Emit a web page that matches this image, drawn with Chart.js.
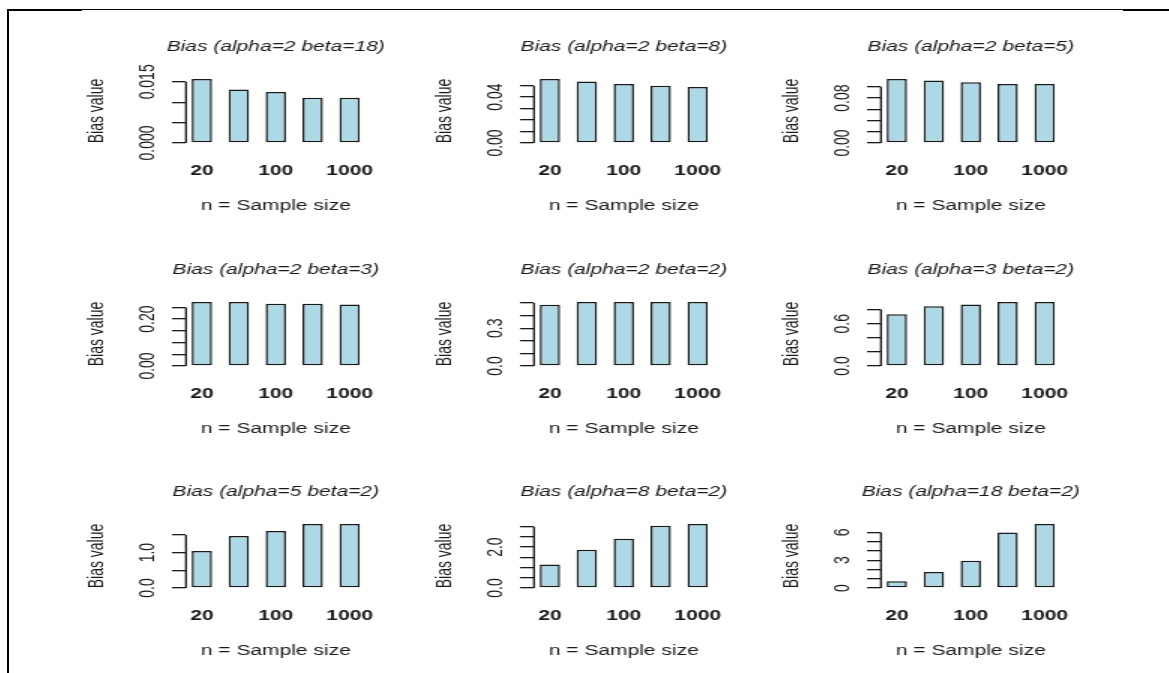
<!DOCTYPE html>
<html>
<head>
<meta charset="utf-8">
<script src="https://cdn.jsdelivr.net/npm/chart.js@4/dist/chart.umd.min.js"></script>
<style>
  html, body { margin: 0; padding: 0; background: #fff; }
  body { position: relative; width: 1169px; height: 673px; overflow: hidden; }
  .rule { position: absolute; background: #000; }
</style>
</head>
<body>
<!-- table frame around the figure -->
<div class="rule" style="left:7px;top:9px;width:1162px;height:1px"></div>
<div class="rule" style="left:7px;top:9px;width:75px;height:2px"></div>
<div class="rule" style="left:1123px;top:9px;width:46px;height:2px"></div>
<div class="rule" style="left:7px;top:9px;width:2px;height:664px"></div>

<script>
// ---- data ----------------------------------------------------------------
const sampleSizes = ['20', '50', '100', '500', '1000'];
const labelledSizes = ['20', '100', '1000'];

const panelTitles = [
  'Bias (alpha=2 beta=18)', 'Bias (alpha=2 beta=8)', 'Bias (alpha=2 beta=5)',
  'Bias (alpha=2 beta=3)',  'Bias (alpha=2 beta=2)', 'Bias (alpha=3 beta=2)',
  'Bias (alpha=5 beta=2)',  'Bias (alpha=8 beta=2)', 'Bias (alpha=18 beta=2)'
];

const biasA2B18 = [0.0157, 0.0131, 0.0125, 0.0111, 0.0111];
const biasA2B8  = [0.0558, 0.0537, 0.0514, 0.0500, 0.0488];
const biasA2B5  = [0.114, 0.1115, 0.108, 0.105, 0.105];
const biasA2B3  = [0.273, 0.273, 0.266, 0.266, 0.262];
const biasA2B2  = [0.487, 0.508, 0.508, 0.508, 0.508];
const biasA3B2  = [0.734, 0.847, 0.871, 0.908, 0.908];
const biasA5B2  = [1.045, 1.47, 1.61, 1.81, 1.81];
const biasA8B2  = [1.15, 1.87, 2.41, 3.05, 3.13];
const biasA18B2 = [0.72, 1.74, 2.93, 6.0, 6.91];

const ticksA2B18 = [0, 0.005, 0.010, 0.015];
const ticksA2B8  = [0, 0.01, 0.02, 0.03, 0.04, 0.05];
const ticksA2B5  = [0, 0.02, 0.04, 0.06, 0.08, 0.10];
const ticksA2B3  = [0, 0.05, 0.10, 0.15, 0.20, 0.25];
const ticksA2B2  = [0, 0.1, 0.2, 0.3, 0.4, 0.5];
const ticksA3B2  = [0, 0.2, 0.4, 0.6, 0.8];
const ticksA5B2  = [0, 0.5, 1.0, 1.5];
const ticksA8B2  = [0, 0.5, 1.0, 1.5, 2.0, 2.5, 3.0];
const ticksA18B2 = [0, 1, 2, 3, 4, 5, 6];

// tick labels ('' = tick mark without a label)
const tickTextA2B18 = ['0.000', '', '', '0.015'];
const tickTextA2B8  = ['0.00', '', '', '', '0.04', ''];
const tickTextA2B5  = ['0.00', '', '', '', '0.08', ''];
const tickTextA2B3  = ['0.00', '', '', '', '0.20', ''];
const tickTextA2B2  = ['0.0', '', '', '0.3', '', ''];
const tickTextA3B2  = ['0.0', '', '', '0.6', ''];
const tickTextA5B2  = ['0.0', '', '1.0', ''];
const tickTextA8B2  = ['0.0', '', '', '', '2.0', '', ''];
const tickTextA18B2 = ['0', '', '', '3', '', '', '6'];

const panelValues = [biasA2B18, biasA2B8, biasA2B5, biasA2B3, biasA2B2, biasA3B2, biasA5B2, biasA8B2, biasA18B2];
const panelTicks  = [ticksA2B18, ticksA2B8, ticksA2B5, ticksA2B3, ticksA2B2, ticksA3B2, ticksA5B2, ticksA8B2, ticksA18B2];
const panelTickText = [tickTextA2B18, tickTextA2B8, tickTextA2B5, tickTextA2B3, tickTextA2B2, tickTextA3B2, tickTextA5B2, tickTextA8B2, tickTextA18B2];

// ---- layout --------------------------------------------------------------
const FONT = '"Liberation Sans", Arial, sans-serif';
const INK = '#1a1a1a';
const BAR_FILL = '#ADD8E6';
const SX = 1.5;                    // each canvas is drawn narrow and shown stretched
const CELL_W = 330, CELL_H = 200;  // css size of one panel canvas
const AREA_LEFT = 110, AREA_W = 189.5, AREA_TOP = 51, AREA_BOTTOM = 115;
const AXIS_X0 = 186, COL_STEP = 347.5;
const BASE_Y0 = 143.3, ROW_STEP = 222.3;
const TICK_LEN = 14 / SX;
const YLABEL_OFFSET = 38.5 / SX;   // centre of y tick labels, left of the axis

Chart.defaults.font.family = FONT;
Chart.defaults.color = INK;

const measure = document.createElement('canvas').getContext('2d');
measure.font = '14px ' + FONT;

const axisLine = {
  id: 'axisLine',
  afterDraw(chart) {
    const s = chart.scales.y, t = s.ticks, ctx = chart.ctx;
    ctx.save();
    ctx.strokeStyle = INK;
    ctx.lineWidth = 1.3;
    ctx.beginPath();
    ctx.moveTo(s.right, s.getPixelForValue(t[t.length - 1].value));
    ctx.lineTo(s.right, s.getPixelForValue(t[0].value));
    ctx.stroke();
    ctx.restore();
  }
};

const panelTitle = {
  id: 'panelTitle',
  afterDraw(chart, args, opts) {
    const {ctx, chartArea} = chart;
    ctx.save();
    ctx.font = 'italic 14px ' + FONT;
    ctx.fillStyle = INK;
    ctx.textAlign = 'center';
    ctx.textBaseline = 'middle';
    ctx.fillText(opts.text, (chartArea.left + chartArea.right) / 2, chartArea.top - 32);
    ctx.restore();
  }
};

panelValues.forEach((values, k) => {
  const col = k % 3, row = Math.floor(k / 3);
  const left = AXIS_X0 + col * COL_STEP - AREA_LEFT;
  const top = BASE_Y0 + row * ROW_STEP - AREA_BOTTOM;
  const cv = document.createElement('canvas');
  cv.width = CELL_W / SX;
  cv.height = CELL_H;
  cv.style.cssText = `position:absolute;left:${left}px;top:${top}px;width:${CELL_W}px;height:${CELL_H}px`;
  document.body.appendChild(cv);

  const ticks = panelTicks[k], tickText = panelTickText[k];
  const widest = Math.max(...tickText.map(s => measure.measureText(s).width));

  new Chart(cv, {
    type: 'bar',
    data: {
      datasets: [{
        data: values.map((v, i) => ({x: i, y: v})),
        backgroundColor: BAR_FILL,
        borderColor: INK,
        borderWidth: 1.5,
        borderSkipped: false,
        barPercentage: 0.551,
        categoryPercentage: 1
      }]
    },
    options: {
      responsive: false,
      animation: false,
      devicePixelRatio: 1,
      events: [],
      layout: {
        padding: {
          left: 0,
          top: AREA_TOP,
          right: (CELL_W - AREA_LEFT - AREA_W) / SX,
          bottom: 0
        }
      },
      plugins: {
        legend: {display: false},
        tooltip: {enabled: false},
        panelTitle: {text: panelTitles[k]}
      },
      scales: {
        x: {
          type: 'linear',
          offset: false,
          min: -0.43,
          max: 4.43,
          grid: {display: false, drawTicks: false},
          border: {display: false},
          afterBuildTicks: s => { s.ticks = sampleSizes.map((_, i) => ({value: i})); },
          ticks: {
            autoSkip: false,
            maxRotation: 0,
            padding: 20.2,
            font: {size: 14, weight: 'bold'},
            callback: v => {
              const lab = sampleSizes[Math.round(v)];
              return labelledSizes.includes(lab) ? lab : '';
            }
          },
          title: {display: true, text: 'n = Sample size', font: {size: 14}, padding: {top: 0, bottom: 13}},
          afterFit: s => { s.height = CELL_H - AREA_BOTTOM; }
        },
        y: {
          type: 'linear',
          min: 0,
          max: Math.max(...values),
          afterBuildTicks: s => { s.ticks = ticks.map(v => ({value: v})); },
          grid: {display: true, drawOnChartArea: false, drawTicks: true, tickLength: TICK_LEN, color: INK, lineWidth: 1.3},
          border: {display: false},
          ticks: {
            autoSkip: false,
            minRotation: 90,
            maxRotation: 90,
            crossAlign: 'center',
            padding: YLABEL_OFFSET - TICK_LEN - widest / 2,
            font: {size: 14},
            callback: (v, i) => tickText[i]
          },
          title: {display: true, text: 'Bias value', font: {size: 14}, padding: {top: 5.6, bottom: 0}},
          afterFit: s => { s.width = AREA_LEFT / SX; }
        }
      }
    },
    plugins: [axisLine, panelTitle]
  });
});
</script>
</body>
</html>
